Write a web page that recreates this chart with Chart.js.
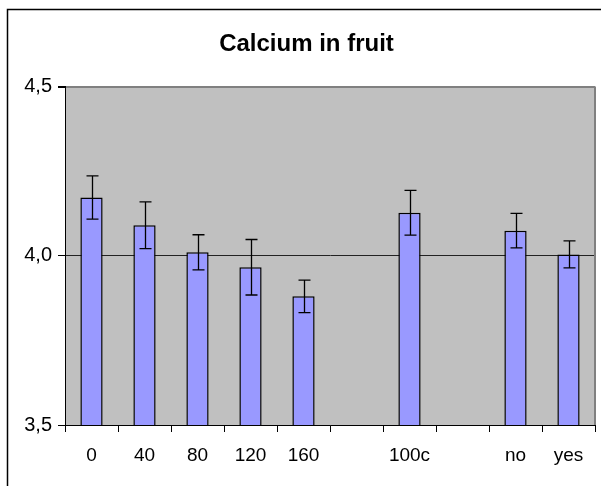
<!DOCTYPE html>
<html>
<head>
<meta charset="utf-8">
<script src="https://cdn.jsdelivr.net/npm/chart.js@4.4.1/dist/chart.umd.min.js"></script>
<style>
  html, body { margin: 0; padding: 0; background: #fff; }
  #wrap { position: relative; width: 601px; height: 486px; }
</style>
</head>
<body>
<div id="wrap"><canvas id="c" width="601" height="486"></canvas></div>
<script>
const categories = ["0", "40", "80", "120", "160", "", "100c", "", "no", "yes"];
const calcium = [4.172, 4.090, 4.010, 3.966, 3.880, null, 4.127, null, 4.074, 4.004];
const errors = [0.064, 0.069, 0.052, 0.082, 0.048, null, 0.066, null, 0.051, 0.040];
const yTicks = [3.5, 4.0, 4.5];
const titleText = "Calcium in fruit";

const FONT = "'Liberation Sans', Arial, sans-serif";

const frameAndBg = {
  id: 'frameAndBg',
  beforeDraw(chart) {
    const ctx = chart.ctx, a = chart.chartArea;
    ctx.save();
    ctx.fillStyle = '#ffffff';
    ctx.fillRect(0, 0, chart.width, chart.height);
    ctx.strokeStyle = '#000';
    ctx.lineWidth = 1.5;
    ctx.beginPath();
    ctx.moveTo(7.5, chart.height + 2);
    ctx.lineTo(7.5, 9.5);
    ctx.lineTo(chart.width + 2, 9.5);
    ctx.stroke();
    ctx.fillStyle = '#C0C0C0';
    ctx.fillRect(a.left, a.top, a.right - a.left, a.bottom - a.top);
    ctx.restore();
  },
  afterDraw(chart) {
    const ctx = chart.ctx, a = chart.chartArea;
    ctx.save();
    ctx.strokeStyle = '#808080';
    ctx.lineWidth = 2;
    ctx.beginPath();
    ctx.moveTo(a.right, a.top);
    ctx.lineTo(a.right, a.bottom);
    ctx.stroke();
    ctx.restore();
  }
};

const errorBars = {
  id: 'errorBars',
  afterDatasetsDraw(chart) {
    const ctx = chart.ctx;
    const meta = chart.getDatasetMeta(0);
    const ys = chart.scales.y;
    ctx.save();
    ctx.strokeStyle = '#000';
    ctx.lineWidth = 1.3;
    meta.data.forEach((bar, i) => {
      const v = calcium[i], e = errors[i];
      if (v === null || e === null) return;
      const x = Math.round(bar.x) + 0.5;
      const yt = ys.getPixelForValue(v + e);
      const yb = ys.getPixelForValue(v - e);
      ctx.beginPath();
      ctx.moveTo(x, yt); ctx.lineTo(x, yb);
      ctx.moveTo(x - 6, yt); ctx.lineTo(x + 6, yt);
      ctx.moveTo(x - 6, yb); ctx.lineTo(x + 6, yb);
      ctx.stroke();
    });
    ctx.restore();
  }
};

new Chart(document.getElementById('c'), {
  type: 'bar',
  data: {
    labels: categories,
    datasets: [{
      data: calcium,
      backgroundColor: '#9999FF',
      borderColor: '#000',
      borderWidth: 1.5,
      barPercentage: 0.42,
      categoryPercentage: 1.0
    }]
  },
  options: {
    responsive: false,
    animation: false,
    layout: { padding: { left: 18, right: 6, top: 0, bottom: 0 } },
    plugins: {
      legend: { display: false },
      tooltip: { enabled: false },
      title: {
        display: true,
        text: titleText,
        color: '#000',
        font: { family: FONT, size: 24, weight: 'bold' },
        padding: { top: 29.6, bottom: 28.1 }
      }
    },
    scales: {
      x: {
        afterFit(s) { s.height = 61; },
        grid: {
          offset: true,
          drawOnChartArea: false,
          drawTicks: true,
          tickLength: 7,
          tickColor: '#000',
          tickWidth: 1
        },
        border: { display: true, color: '#000', width: 1 },
        ticks: {
          color: '#000',
          font: { family: FONT, size: 19 },
          padding: 12,
          maxRotation: 0,
          autoSkip: false
        }
      },
      y: {
        min: 3.5,
        max: 4.5,
        afterFit(s) { s.width = 47; },
        afterBuildTicks(s) { s.ticks = yTicks.map(v => ({ value: v })); },
        grid: {
          color: (c) => (c.tick && c.tick.value === 4.5) ? '#808080' : '#222',
          lineWidth: (c) => (c.tick && c.tick.value === 4.5) ? 2 : 1,
          tickColor: '#000',
          tickLength: 7,
          drawTicks: true
        },
        border: { display: true, color: '#000', width: 1 },
        ticks: {
          color: '#000',
          font: { family: FONT, size: 20 },
          padding: 6,
          callback: (v) => Number(v).toFixed(1).replace('.', ',')
        }
      }
    }
  },
  plugins: [frameAndBg, errorBars]
});
</script>
</body>
</html>
